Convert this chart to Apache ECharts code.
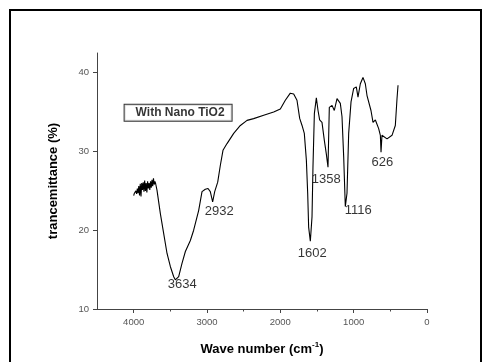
<!DOCTYPE html>
<html>
<head>
<meta charset="utf-8">
<script src="https://cdn.jsdelivr.net/npm/echarts@6/dist/echarts.min.js"></script>
<style>
  html, body { margin: 0; padding: 0; background: #fff; }
  #ir { width: 484px; height: 362px; }
</style>
</head>
<body>
<div id="ir"></div>
<script>
// spectrum (cm-1, %)
const waveNumber = [4000, 3990, 3980, 3970, 3960, 3950, 3940, 3930, 3920, 3910, 3900, 3890, 3880, 3870, 3860, 3850, 3840, 3830, 3820, 3810,
  3800, 3790, 3780, 3770, 3760, 3750, 3740, 3730, 3720, 3710, 3700, 3682,
  3636, 3591, 3545, 3500, 3454, 3432, 3386, 3341, 3295, 3227, 3182, 3114, 3068, 3023, 2986, 2955, 2923, 2895, 2854, 2818, 2782, 2727,
  2636, 2545, 2454, 2364, 2227, 2091, 2000, 1932, 1864, 1818, 1773, 1736, 1704, 1673, 1645, 1627, 1614, 1591, 1568, 1555, 1536, 1509,
  1486, 1464, 1432, 1400, 1373, 1350, 1332, 1295, 1264, 1227, 1182, 1159, 1136, 1114, 1091, 1068, 1036, 1000, 964, 941, 909, 873,
  841, 818, 795, 764, 736, 704, 659, 636, 627, 614, 545, 477, 432, 409, 395];
const transmittance = [24.4, 24.7, 24.5, 25.0, 24.6, 25.3, 24.7, 25.6, 24.4, 25.9, 24.3, 26.0, 25.1, 26.1, 24.9, 26.3, 25.0, 26.0, 24.8, 26.2,
  25.3, 26.0, 25.1, 26.2, 25.4, 26.4, 25.6, 26.6, 25.8, 26.2, 25.9, 25.1,
  22.1, 19.6, 17.05, 15.4, 14.1, 13.7, 14.1, 15.8, 17.3, 18.7, 20.0, 22.5, 24.9, 25.2, 25.3, 24.9, 23.6, 24.9, 26.1, 28.25, 30.15, 31.0,
  32.3, 33.3, 33.95, 34.17, 34.6, 35.0, 35.4, 36.5, 37.4, 37.3, 36.5, 34.2, 33.3, 32.3, 28.9, 24.7, 20.4, 18.6, 21.7, 28.0, 34.8, 36.8,
  35.2, 34.0, 33.7, 31.4, 29.7, 28.0, 35.6, 35.85, 35.2, 36.7, 36.1, 34.4, 29.3, 23.0, 24.7, 32.3, 36.3, 38.0, 38.2, 36.9, 38.6, 39.4,
  38.6, 37.1, 36.9, 35.2, 33.7, 34.0, 32.9, 32.05, 29.9, 32.05, 31.6, 32.05, 33.3, 36.7, 38.4];

// peak labels, placed in data units
const peakNames = ['3634', '2932', '1602', '1358', '1116', '626'];
const peakX = [3337, 2832, 1564, 1373, 937, 609];
const peakY = [13.17, 22.42, 17.1, 26.48, 22.55, 28.63];

const sampleName = 'With Nano TiO2';
const sampleAt = [3394, 34.9];

const xTicks = [0, 1000, 2000, 3000, 4000];
const xMinorTicks = [500, 1500, 2500, 3500];
const yTicks = [10, 20, 30, 40];

const font = '"Liberation Sans", Arial, sans-serif';
const axisGrey = '#444';

const chart = echarts.init(document.getElementById('ir'));
chart.setOption({
  animation: false,
  graphic: [{
    type: 'rect',
    shape: { x: 10, y: 10, width: 471, height: 362 },
    style: { fill: 'none', stroke: '#000', lineWidth: 2 }
  }],
  grid: { left: 97, right: 57, top: 53, bottom: 53 },
  xAxis: [{
    type: 'value', min: 0, max: 4500, inverse: true, position: 'bottom',
    name: '{a|Wave number (cm}{s|-1}{a|)}',
    nameLocation: 'middle', nameGap: 32,
    nameTextStyle: {
      rich: {
        a: { fontFamily: font, fontWeight: 'bold', fontSize: 13, color: '#000' },
        s: { fontFamily: font, fontWeight: 'bold', fontSize: 8, color: '#000', verticalAlign: 'top', padding: [0, 0, 8, 0] }
      }
    },
    splitLine: { show: false },
    axisLine: { show: true, onZero: false, lineStyle: { color: axisGrey, width: 1 } },
    axisTick: { customValues: xTicks, length: 4, lineStyle: { color: axisGrey } },
    axisLabel: { customValues: xTicks, margin: 8, color: '#555', fontSize: 9.5, fontFamily: font, formatter: (v) => String(v) }
  }, {
    type: 'value', min: 0, max: 4500, inverse: true, position: 'bottom',
    splitLine: { show: false },
    axisLine: { show: false, onZero: false },
    axisTick: { customValues: xMinorTicks, length: 2.5, lineStyle: { color: axisGrey } },
    axisLabel: { show: false }
  }],
  yAxis: {
    type: 'value', min: 10, max: 42.5, position: 'left',
    name: 'trancemittance (%)',
    nameLocation: 'middle', nameGap: 37, nameRotate: 90,
    nameTextStyle: { fontFamily: font, fontWeight: 'bold', fontSize: 13, color: '#000' },
    splitLine: { show: false },
    axisLine: { show: true, onZero: false, lineStyle: { color: axisGrey, width: 1 } },
    axisTick: { show: true, customValues: yTicks, length: 4, lineStyle: { color: axisGrey } },
    axisLabel: { customValues: yTicks, margin: 8, color: '#555', fontSize: 9.5, fontFamily: font }
  },
  series: [{
    type: 'line',
    data: waveNumber.map((w, i) => [w, transmittance[i]]),
    showSymbol: false,
    lineStyle: { color: '#000', width: 1.1 },
    z: 3
  }, {
    type: 'scatter',
    symbolSize: 0,
    data: peakNames.map((n, i) => ({ name: n, value: [peakX[i], peakY[i]] })),
    label: {
      show: true, position: 'inside', formatter: '{b}',
      fontFamily: font, fontSize: 13, color: '#000'
    },
    z: 4
  }, {
    type: 'scatter',
    symbolSize: 0,
    data: [{ name: sampleName, value: sampleAt }],
    label: {
      show: true, position: 'inside', formatter: '{b}',
      fontFamily: font, fontSize: 12, fontWeight: 'bold', color: '#000',
      borderColor: '#000', borderWidth: 1, padding: [2, 7, 2, 11], backgroundColor: '#fff'
    },
    z: 4
  }]
});
</script>
</body>
</html>
